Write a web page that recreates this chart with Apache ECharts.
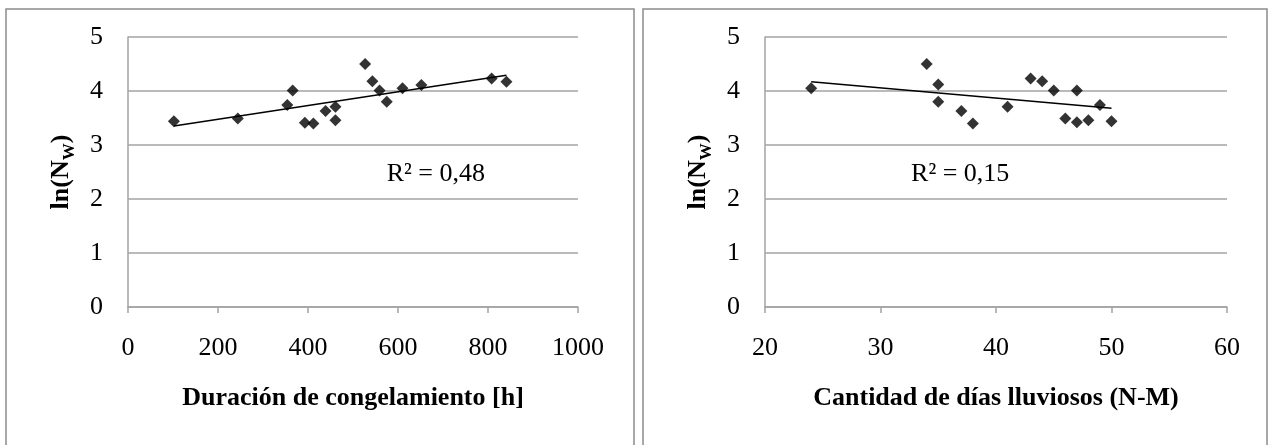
<!DOCTYPE html>
<html>
<head>
<meta charset="utf-8">
<script src="https://cdn.jsdelivr.net/npm/echarts@6/dist/echarts.min.js"></script>
<style>
html,body{margin:0;padding:0;background:#fff;}
#chart{width:1271px;height:445px;}
</style>
</head>
<body>
<div id="chart"></div>
<script>
// Left chart: Duración de congelamiento [h] vs ln(Nw)
const freezeHours = [102, 244, 354, 366, 393, 412, 439, 461, 461, 527, 543, 559, 575, 610, 652, 808, 841];
const freezeLnNw  = [3.44, 3.49, 3.74, 4.01, 3.41, 3.40, 3.63, 3.71, 3.46, 4.50, 4.18, 4.01, 3.80, 4.05, 4.11, 4.23, 4.17];
const freezeTrendX = [102, 841];
const freezeTrendY = [3.35, 4.29];
const freezeR2 = 'R² = 0,48';

// Right chart: Cantidad de días lluviosos (N-M) vs ln(Nw)
const rainDays  = [24, 34, 35, 35, 37, 38, 41, 43, 44, 45, 47, 46, 47, 48, 49, 50];
const rainLnNw  = [4.05, 4.50, 4.12, 3.80, 3.63, 3.40, 3.71, 4.23, 4.18, 4.01, 4.01, 3.49, 3.42, 3.46, 3.74, 3.44];
const rainTrendX = [24, 50];
const rainTrendY = [4.17, 3.68];
const rainR2 = 'R² = 0,15';

const yTicks = [0, 1, 2, 3, 4, 5];
const xTitleLeft = 'Duración de congelamiento [h]';
const xTitleRight = 'Cantidad de días lluviosos (N-M)';

const FONT = 'Liberation Serif';
const GRID_COLOR = '#a3a3a3';

const zip = (a, b) => a.map((v, i) => [v, b[i]]);

function xAxisCfg(idx, min, max, interval, name) {
  return {
    type: 'value', gridIndex: idx, min: min, max: max, interval: interval,
    name: name, nameLocation: 'middle', nameGap: 78,
    nameTextStyle: { fontFamily: FONT, fontSize: 26, fontWeight: 'bold', color: '#000' },
    axisLine: { show: true, lineStyle: { color: GRID_COLOR, width: 1.5 } },
    axisTick: { show: true, length: 6, lineStyle: { color: GRID_COLOR, width: 1.5 } },
    axisLabel: { margin: 28, fontFamily: FONT, fontSize: 26, color: '#000', formatter: v => String(v) },
    splitLine: { show: false }
  };
}
function yAxisCfg(idx) {
  return {
    type: 'value', gridIndex: idx, min: yTicks[0], max: yTicks[yTicks.length - 1], interval: 1,
    name: '{n|ln(N}{s|W}{n|)}', nameLocation: 'middle', nameGap: 54, nameRotate: 90,
    nameTextStyle: {
      fontFamily: FONT, fontWeight: 'bold', color: '#000',
      rich: {
        n: { fontFamily: FONT, fontSize: 26, fontWeight: 'bold', color: '#000', lineHeight: 30, verticalAlign: 'bottom' },
        s: { fontFamily: FONT, fontSize: 17, fontWeight: 'bold', color: '#000', lineHeight: 30, verticalAlign: 'bottom', padding: [0, 0, -4, 0] }
      }
    },
    axisLine: { show: true, lineStyle: { color: GRID_COLOR, width: 1.5 } },
    axisTick: { show: false },
    axisLabel: { margin: 25, fontFamily: FONT, fontSize: 26, color: '#000' },
    splitLine: { show: true, lineStyle: { color: GRID_COLOR, width: 1.5 } }
  };
}
function scatterCfg(idx, data) {
  return {
    type: 'scatter', xAxisIndex: idx, yAxisIndex: idx, data: data,
    symbol: 'diamond', symbolSize: [12, 12],
    itemStyle: { color: '#000' }, silent: true, z: 3
  };
}
function trendCfg(idx, data, r2, coord) {
  return {
    type: 'line', xAxisIndex: idx, yAxisIndex: idx, data: data,
    showSymbol: false, symbol: 'none',
    lineStyle: { color: '#000', width: 1.5 }, silent: true, z: 2,
    markPoint: {
      symbol: 'circle', symbolSize: 0, silent: true,
      label: { show: true, position: 'inside', formatter: r2, fontFamily: FONT, fontSize: 26, color: '#000' },
      data: [{ coord: coord }]
    }
  };
}

const chart = echarts.init(document.getElementById('chart'), null, { renderer: 'canvas' });
chart.setOption({
  animation: false,
  backgroundColor: '#fff',
  textStyle: { fontFamily: FONT },
  grid: [
    { left: 128, top: 37, width: 450, height: 270 },
    { left: 765, top: 37, width: 462, height: 270 }
  ],
  xAxis: [
    xAxisCfg(0, 0, 1000, 200, xTitleLeft),
    xAxisCfg(1, 20, 60, 10, xTitleRight)
  ],
  yAxis: [yAxisCfg(0), yAxisCfg(1)],
  graphic: [
    { type: 'rect', shape: { x: 6, y: 9, width: 628, height: 450 }, style: { fill: 'none', stroke: '#8c8c8c', lineWidth: 1.5 }, silent: true, z: -1 },
    { type: 'rect', shape: { x: 643, y: 9, width: 624, height: 450 }, style: { fill: 'none', stroke: '#8c8c8c', lineWidth: 1.5 }, silent: true, z: -1 }
  ],
  series: [
    trendCfg(0, zip(freezeTrendX, freezeTrendY), freezeR2, [684, 2.46]),
    scatterCfg(0, zip(freezeHours, freezeLnNw)),
    trendCfg(1, zip(rainTrendX, rainTrendY), rainR2, [36.9, 2.46]),
    scatterCfg(1, zip(rainDays, rainLnNw))
  ]
});
</script>
</body>
</html>
